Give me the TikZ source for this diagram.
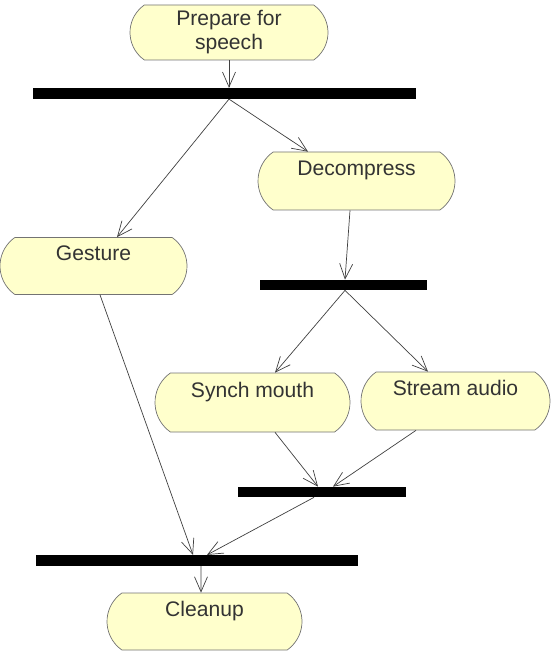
\documentclass[tikz,border=0pt]{standalone}
\usepackage{fontspec}
\setmainfont{Liberation Sans}
\usepackage{tikz}
\usetikzlibrary{shapes.misc,arrows.meta}
\definecolor{statefill}{RGB}{255,255,204}

\begin{document}
\begin{tikzpicture}[x=0.2mm,y=-0.2mm,
            state/.style={rounded rectangle, rounded rectangle arc length=110,
                draw=black!55, fill=statefill, font=\fontsize{12}{13.6}\selectfont,
                text=black!80, inner sep=0pt, minimum height=11.4mm},
            oneline/.style={text height=3mm, text depth=5.2mm},
            bar/.style={fill=black, inner sep=0pt, minimum height=2.1mm},
            flow/.style={draw=black!75, thin, -{Straight Barb[length=3mm,width=2.6mm]}}]
            \useasboundingbox (0,0) rectangle (550,651);
            %states
            \node[state, align=center, minimum width=39.6mm, minimum height=11mm] (prep) at (229,32.5) {Prepare for\\speech};
            \node[state, oneline, minimum width=37.4mm] (ges) at (93.5,266) {Gesture};
            \node[state, oneline, minimum width=39.4mm, minimum height=11.6mm] (dec) at (356.5,181) {Decompress};
            \node[state, oneline, minimum width=39mm, minimum height=11.8mm] (syn) at (252.5,402.5) {Synch mouth};
            \node[state, oneline, minimum width=37.8mm, minimum height=11.6mm] (str) at (455.5,401) {Stream audio};
            \node[state, oneline, minimum width=39mm] (cle) at (204.5,621.5) {Cleanup};
            %bars
            \node[bar, minimum width=76.6mm] (b1) at (224.5,93.5) {};
            \node[bar, minimum width=33.4mm, minimum height=2mm] (b2) at (343.5,285) {};
            \node[bar, minimum width=33.6mm, minimum height=2mm] (b3) at (322,492) {};
            \node[bar, minimum width=64.4mm] (b4) at (197,560.5) {};
            %transitions
            \draw[flow] (prep.south) -- (prep.south |- b1.north);
            \draw[flow] (prep.south |- b1.south) -- ([xshift=4.7mm]ges.north);
            \draw[flow] (prep.south |- b1.south) -- ([xshift=-9.7mm]dec.north);
            \draw[flow] ([xshift=-1.3mm]dec.south) -- ([xshift=0.3mm]b2.north);
            \draw[flow] ([xshift=0.3mm]b2.south) -- ([xshift=4.5mm]syn.north);
            \draw[flow] ([xshift=0.3mm]b2.south) -- ([xshift=-5.5mm]str.north);
            \draw[flow] ([xshift=4.5mm]syn.south) -- ([xshift=-0.8mm]b3.north);
            \draw[flow] ([xshift=-7.9mm]str.south) -- ([xshift=2.2mm]b3.north);
            \draw[flow] ([xshift=1.3mm]ges.south) -- ([xshift=-0.8mm]b4.north);
            \draw[flow] ([xshift=-1.6mm]b3.south) -- ([xshift=2mm]b4.north);
            \draw[flow] ([xshift=0.8mm]b4.south) -- ([xshift=-0.7mm]cle.north);
\end{tikzpicture}
\end{document}
